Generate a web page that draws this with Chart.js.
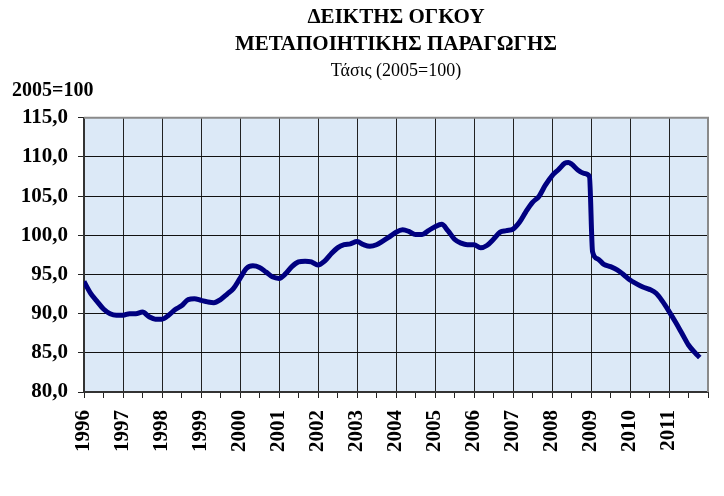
<!DOCTYPE html>
<html>
	<head>
		<meta charset="utf-8">
		<title>ΔΕΙΚΤΗΣ ΟΓΚΟΥ ΜΕΤΑΠΟΙΗΤΙΚΗΣ ΠΑΡΑΓΩΓΗΣ</title>
		<script src="https://cdn.jsdelivr.net/npm/chart.js"></script>
		<style>
			html, body { margin: 0; padding: 0; background: #fff; }
			#wrap { width: 724px; height: 496px; }
		</style>
	</head>
	<body>
		<div id="wrap"><canvas id="trend"></canvas></div>

		<script>

			// Data (x = year as decimal, value = index 2005=100).
			const xYears = [
				1996.00, 1996.17, 1996.33, 1996.50, 1996.67, 1996.83,
				1997.00, 1997.17, 1997.33, 1997.50, 1997.67, 1997.83,
				1998.00, 1998.17, 1998.33, 1998.50, 1998.67, 1998.83,
				1999.00, 1999.17, 1999.33, 1999.50, 1999.67, 1999.83,
				2000.00, 2000.17, 2000.33, 2000.50, 2000.67, 2000.83,
				2001.00, 2001.17, 2001.33, 2001.50, 2001.67, 2001.83,
				2002.00, 2002.17, 2002.33, 2002.50, 2002.67, 2002.83,
				2003.00, 2003.17, 2003.33, 2003.50, 2003.67, 2003.83,
				2004.00, 2004.17, 2004.33, 2004.50, 2004.67, 2004.83,
				2005.00, 2005.17, 2005.33, 2005.50, 2005.67, 2005.83,
				2006.00, 2006.17, 2006.33, 2006.50, 2006.67, 2006.83,
				2007.00, 2007.17, 2007.33, 2007.50, 2007.67, 2007.83,
				2008.00, 2008.17, 2008.33, 2008.42, 2008.50, 2008.67, 2008.83, 2008.96,
				2009.04, 2009.17, 2009.33, 2009.50, 2009.67, 2009.83,
				2010.00, 2010.17, 2010.33, 2010.50, 2010.67, 2010.83,
				2011.00, 2011.17, 2011.33, 2011.50, 2011.67, 2011.79
			];
			const trend = [
				94.1, 92.6, 91.6, 90.6, 90.0, 89.8,
				89.8, 90.0, 90.0, 90.2, 89.6, 89.3,
				89.3, 89.8, 90.5, 91.0, 91.8, 91.9,
				91.7, 91.5, 91.4, 91.8, 92.5, 93.2,
				94.5, 95.8, 96.1, 95.9, 95.3, 94.7,
				94.5, 95.1, 96.0, 96.6, 96.7, 96.6,
				96.2, 96.7, 97.6, 98.4, 98.8, 98.9,
				99.2, 98.8, 98.6, 98.8, 99.3, 99.8,
				100.4, 100.7, 100.5, 100.1, 100.1, 100.6,
				101.1, 101.4, 100.6, 99.5, 99.0, 98.8,
				98.8, 98.4, 98.7, 99.5, 100.4, 100.6,
				100.8, 101.7, 103.0, 104.2, 105.0, 106.4,
				107.6, 108.4, 109.2, 109.3, 109.1, 108.3, 107.9, 107.5,
				97.9, 97.0, 96.3, 96.0, 95.6, 95.0,
				94.3, 93.8, 93.4, 93.1, 92.6, 91.6,
				90.3, 88.9, 87.5, 86.0, 85.0, 84.4
			];
			const yearLabels = [
				'1996', '1997', '1998', '1999', '2000', '2001', '2002', '2003',
				'2004', '2005', '2006', '2007', '2008', '2009', '2010', '2011'
			];

			const serif = "'Liberation Serif', 'Times New Roman', serif";

			// Plot background, frame and the unit label.
			const plotDecor = {
				id: 'plotDecor',
				beforeDraw(chart) {
					const a = chart.chartArea, c = chart.ctx;
					c.save();
					c.fillStyle = '#dce9f7';
					c.fillRect(a.left, a.top, a.right - a.left, a.bottom - a.top);
					c.restore();
				},
				afterDatasetsDraw(chart) {
					const a = chart.chartArea, c = chart.ctx;
					c.save();
					c.strokeStyle = '#8a8a8a';
					c.lineWidth = 2;
					c.beginPath();
					c.moveTo(a.left, a.top);
					c.lineTo(a.right, a.top);
					c.lineTo(a.right, a.bottom);
					c.stroke();
					c.fillStyle = '#000';
					c.font = 'bold 20px ' + serif;
					c.textBaseline = 'alphabetic';
					c.fillText('2005=100', 12, a.top - 22);
					c.restore();
				}
			};

			const points = xYears.map((x, i) => ({ x: x, y: trend[i] }));

			new Chart(document.getElementById('trend'), {
				type: 'line',
				data: {
					datasets: [{
						data: points,
						borderColor: '#000080',
						borderWidth: 5,
						pointRadius: 0,
						cubicInterpolationMode: 'monotone',
						fill: false
					}]
				},
				options: {
					responsive: true,
					maintainAspectRatio: false,
					animation: false,
					layout: { padding: { top: 4, right: 0, left: 0, bottom: 0 } },
					plugins: {
						legend: { display: false },
						tooltip: { enabled: false },
						title: {
							display: true,
							fullSize: false,
							text: ['ΔΕΙΚΤΗΣ ΟΓΚΟΥ', 'ΜΕΤΑΠΟΙΗΤΙΚΗΣ ΠΑΡΑΓΩΓΗΣ'],
							color: '#000',
							font: { family: serif, size: 21, weight: 'bold', lineHeight: 1.3 },
							padding: { top: 0, bottom: 0 }
						},
						subtitle: {
							display: true,
							fullSize: false,
							text: 'Τάσις (2005=100)',
							color: '#000',
							font: { family: serif, size: 18, weight: 'normal', lineHeight: 1.4 },
							padding: { top: 0, bottom: 34 }
						}
					},
					scales: {
						x: {
							type: 'linear',
							min: 1996,
							max: 2012,
							afterFit: (s) => { s.height = 104; s.paddingRight = 16; },
							ticks: {
								stepSize: 0.5,
								autoSkip: false,
								minRotation: 90,
								maxRotation: 90,
								padding: 12,
								color: '#000',
								font: { family: serif, size: 21, weight: 'bold' },
								callback: (v) => {
									const i = v - 1996;
									return Number.isInteger(i) && i < yearLabels.length ? yearLabels[i] : '';
								}
							},
							grid: {
								color: (ctx) => {
									const v = ctx.tick ? ctx.tick.value : 0;
									return Number.isInteger(v) && v > 1996 && v < 2012 ? '#222' : 'rgba(0,0,0,0)';
								},
								tickColor: '#222',
								tickLength: 6,
								lineWidth: 1
							},
							border: { color: '#333', width: 2 }
						},
						y: {
							min: 80,
							max: 115,
							afterFit: (s) => { s.width = 84; },
							ticks: {
								stepSize: 5,
								padding: 10,
								color: '#000',
								font: { family: serif, size: 21, weight: 'bold' },
								callback: (v) => v.toFixed(1).replace('.', ',')
							},
							grid: {
								color: (ctx) => (ctx.tick && ctx.tick.value > 80 && ctx.tick.value < 115) ? '#111' : 'rgba(0,0,0,0)',
								tickColor: '#222',
								tickLength: 6,
								lineWidth: 1
							},
							border: { color: '#333', width: 2 }
						}
					}
				},
				plugins: [plotDecor]
			});

		</script>
	</body>
</html>
